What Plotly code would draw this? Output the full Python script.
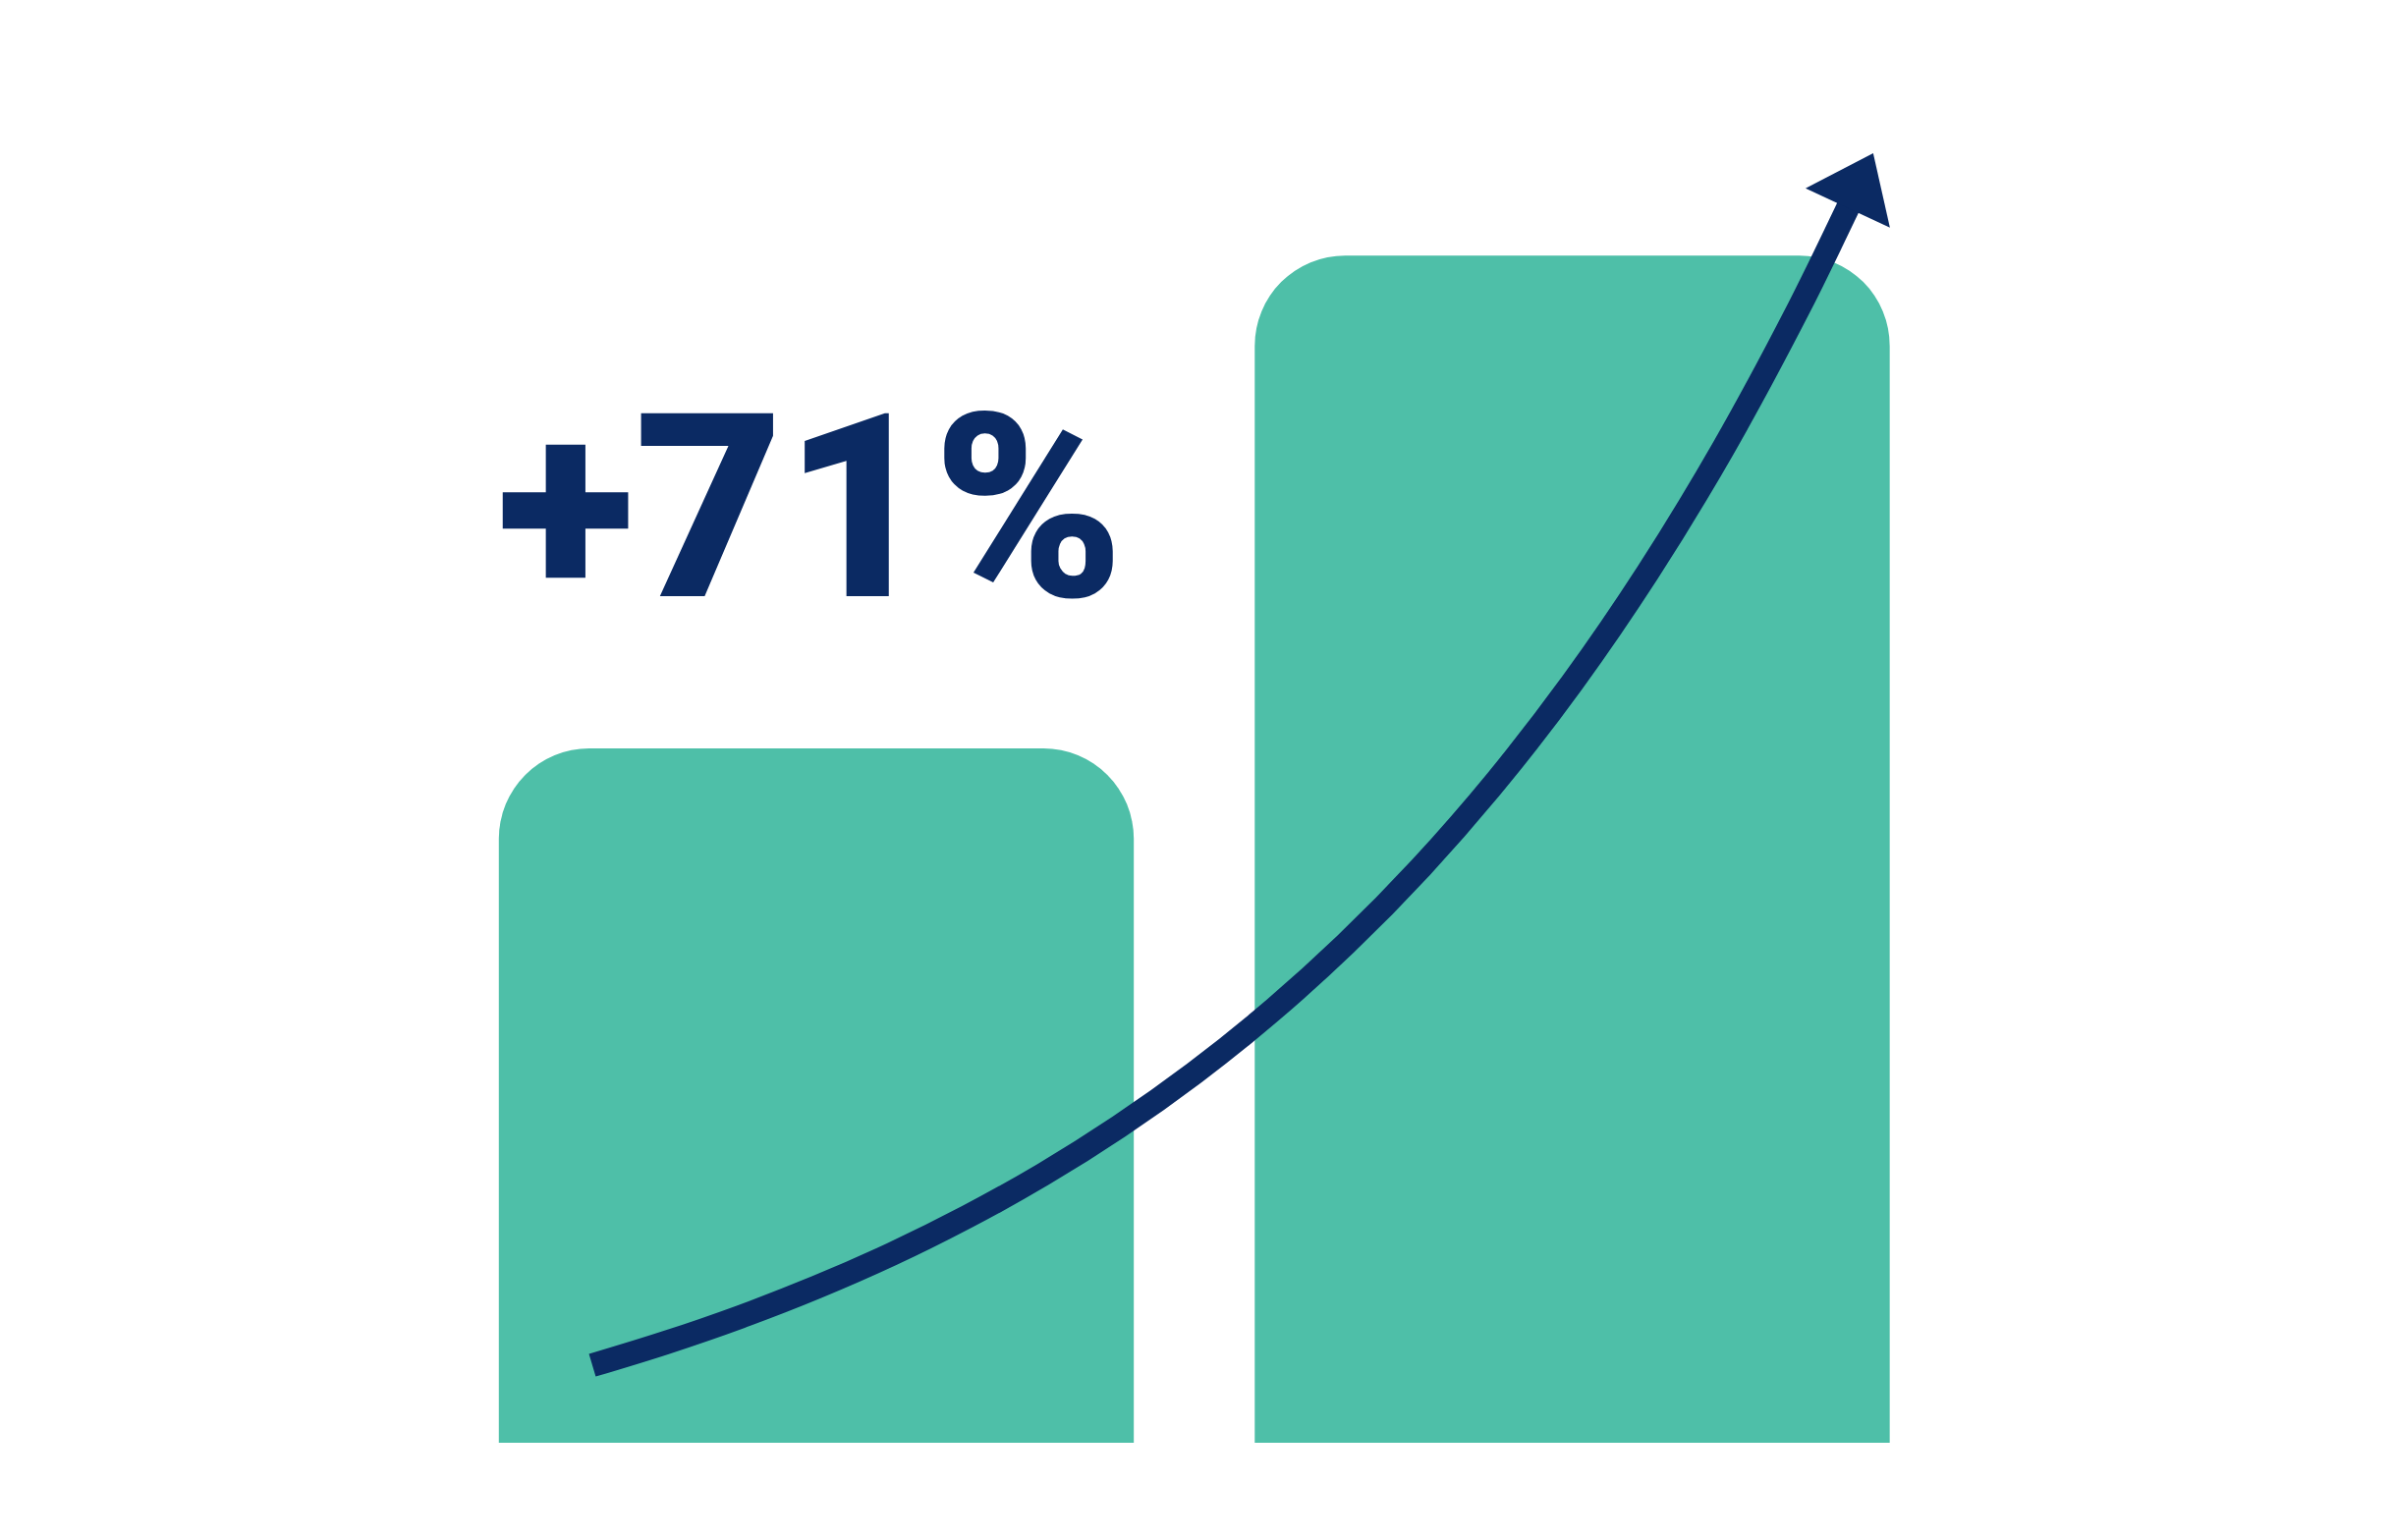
import plotly.graph_objects as go

# ---- data ----
periods = [0, 1]                 # two bars (before / after)
values = [100, 171]              # relative heights -> +71 %
growth_label = "+71%"

# growth curve (data units: x = bar position, y = value scale)
curve_x = [-0.2963, -0.2, -0.1, 0.0, 0.1, 0.2, 0.3, 0.4, 0.5, 0.6,
           0.7, 0.8, 0.9, 1.0, 1.1, 1.2, 1.3, 1.3593, 1.3757]
curve_y = [11.17, 14.40, 18.16, 22.40, 27.18, 32.58, 38.66, 45.52, 53.25,
           61.97, 71.80, 82.88, 95.38, 109.47, 125.36, 143.27, 163.47,
           176.66, 180.48]

# arrow head: point behind the head and head position
arrow_x = [1.3539, 1.3757]
arrow_y = [175.37, 180.48]

TEAL = "#4EBFA8"
NAVY = "#0B2A63"

fig = go.Figure()

fig.add_trace(go.Bar(
    x=periods, y=values, width=0.84,
    marker=dict(color=TEAL, cornerradius=92, line=dict(width=0)),
    hoverinfo="skip",
))

fig.add_trace(go.Scatter(
    x=curve_x, y=curve_y, mode="lines",
    line=dict(color=NAVY, width=24, shape="spline", smoothing=1.0,
              simplify=False),
    hoverinfo="skip",
))

fig.add_trace(go.Scatter(
    x=arrow_x, y=arrow_y, mode="markers",
    marker=dict(size=[0, 82], symbol="triangle-up", color=NAVY, opacity=1,
                angleref="previous", line=dict(width=0)),
    hoverinfo="skip",
))

fig.add_annotation(
    x=-0.0078, y=134.6, xref="x", yref="y",
    text=growth_label, showarrow=False,
    font=dict(family="Roboto", size=262, color=NAVY, weight=900),
    xanchor="center", yanchor="middle",
)

fig.update_layout(
    width=2436, height=1568,
    margin=dict(l=0, r=0, t=0, b=0),
    paper_bgcolor="white", plot_bgcolor="white",
    showlegend=False,
    xaxis=dict(range=[-1.0799, 2.0858], visible=False, fixedrange=True),
    yaxis=dict(range=[-14.0, 207.8], visible=False, fixedrange=True),
)

fig.write_html("out.html", config={"displayModeBar": False},
               post_script="document.body.style.margin='0';")
